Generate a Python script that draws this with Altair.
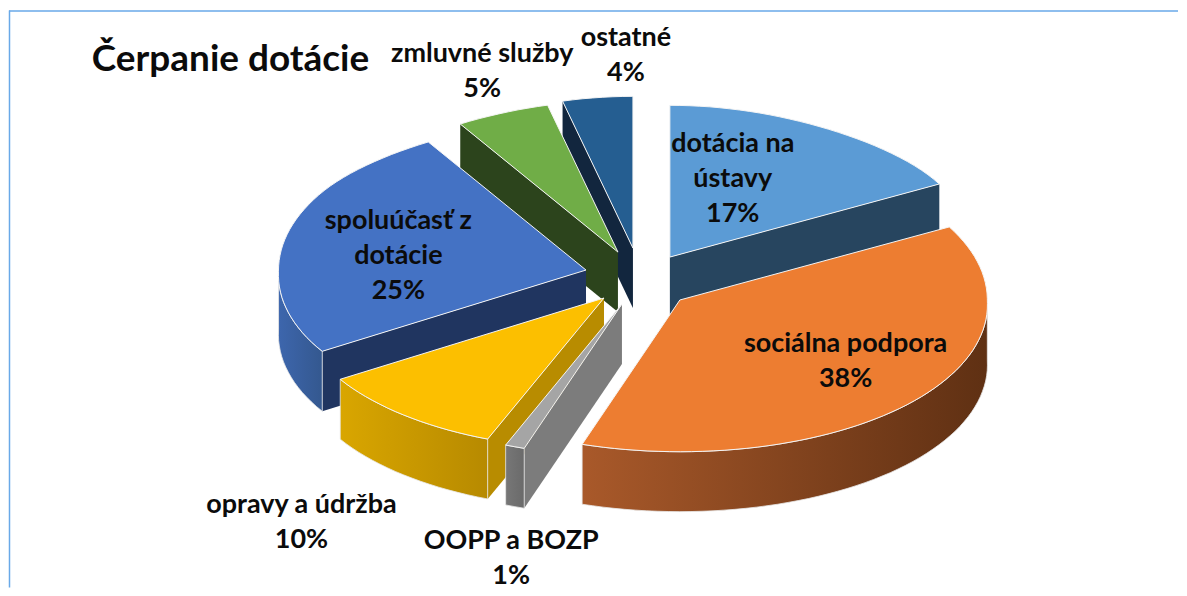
import math
import altair as alt

TITLE = "Čerpanie dotácie"
NAMES = ["dotácia na\nústavy", "sociálna podpora", "OOPP a BOZP", "opravy a údržba",
         "spoluúčasť z\ndotácie", "zmluvné služby", "ostatné"]
SHARES = [17, 38, 1, 10, 25, 5, 4]

# drawing parameters (screen pixels of the reference)
W, H = 1171, 580
OFF = 8
RX, RY, DEPTH = 308, 152, 60
APEX = [(670, 257), (680, 300), (622, 304), (604, 298), (586, 270), (618, 252), (633, 248)]
TOPS = ["#5b9bd5", "#ed7d31", "#a5a5a5", "#fcbf00", "#4472c4", "#70ad47", "#255e91"]
RADIAL = ["#27455f", "#5f3013", "#7c7c7c", "#b88c00", "#203560", "#2c441c", "#12263e"]
OUTER = [("#27455f", "#27455f"), ("#a9592a", "#5f3013"), ("#777777", "#6a6a6a"), ("#d9a600", "#b78a00"),
         ("#3d66ad", "#34588f"), ("#2c441c", "#2c441c"), ("#12263e", "#12263e")]
PAINT = [6, 5, 0, 4, 3, 2, 1]
LABEL_POS = [(733, 144), (846, 344), (511, 541), (301, 505), (398, 221), (482, 54), (626, 38)]


def pt(i, deg, depth=0):
    a = math.radians(deg)
    t = -math.cos(a)
    k = 1 + 0.03 * t if t > 0 else 1 - 0.36 * max(0, -t - 0.5) ** 2
    ax, ay = APEX[i]
    return [round(ax + RX * k * math.sin(a), 1), round(ay + RY * t + depth, 1)]


def arc(i, lo, hi, depth=0):
    n = max(2, int((hi - lo) / 2))
    return [pt(i, lo + (hi - lo) * j / n, depth) for j in range(n + 1)]


def poly(points):
    pts = points + [points[0]]
    return alt.Data(values=[{"type": "Feature", "properties": {},
                             "geometry": {"type": "Polygon", "coordinates": [pts]}}])


PROJ = dict(type="identity", scale=1, translate=[-OFF, -OFF])


def shape(points, fill, **kw):
    return alt.Chart(poly(points)).mark_geoshape(fill=fill, **kw).project(**PROJ)


def grad(c1, c2):
    return alt.LinearGradient(gradient="linear", x1=0, x2=1, y1=0, y2=0,
                              stops=[alt.GradientStop(color=c1, offset=0),
                                     alt.GradientStop(color=c2, offset=1)])


starts, acc = [], 0
for s in SHARES:
    starts.append(acc * 3.6)
    acc += s

layers = []
for i in PAINT:
    s, e = starts[i], starts[i] + SHARES[i] * 3.6
    ax, ay = APEX[i]
    if e <= 180:
        q = pt(i, e)
        layers.append(shape([[ax, ay], q, [q[0], q[1] + DEPTH], [ax, ay + DEPTH]], RADIAL[i]))
    if s >= 180:
        q = pt(i, s)
        layers.append(shape([[ax, ay], q, [q[0], q[1] + DEPTH], [ax, ay + DEPTH]], RADIAL[i]))
    lo, hi = max(s, 90), min(e, 270)
    if lo < hi:
        wall = arc(i, lo, hi) + arc(i, lo, hi, DEPTH)[::-1]
        layers.append(shape(wall, grad(OUTER[i][0], OUTER[i][1]), stroke="#e8e8e8", strokeWidth=0.8))
    top = [[ax, ay]] + arc(i, s, e)
    layers.append(shape(top, TOPS[i], stroke="#f4f4f4", strokeWidth=1))

labels = alt.Data(values=[
    {"t": f"{n}\n{v}%", "x": p[0] - OFF, "y": p[1] - OFF}
    for n, v, p in zip(NAMES, SHARES, LABEL_POS)
])
xs = alt.Scale(domain=[0, W], range=[0, W])
ys = alt.Scale(domain=[0, H], range=[0, H])
text = alt.Chart(labels).mark_text(
    font="Lato", fontWeight="bold", fontSize=27, color="#0b0b0b", lineBreak="\n", lineHeight=35,
    align="center", baseline="middle"
).encode(x=alt.X("x:Q", scale=xs, axis=None), y=alt.Y("y:Q", scale=ys, axis=None), text="t:N")

title = alt.Chart(alt.Data(values=[{"t": TITLE, "x": 91 - OFF, "y": 60 - OFF}])).mark_text(
    font="Lato", fontWeight="bold", fontSize=37, color="#0b0b0b", align="left", baseline="middle"
).encode(x=alt.X("x:Q", scale=xs, axis=None), y=alt.Y("y:Q", scale=ys, axis=None), text="t:N")

frame_t = alt.Chart(alt.Data(values=[{}])).mark_rule(color="#69a9e8", strokeWidth=1.5).encode(
    x=alt.value(0), x2=alt.value(W), y=alt.value(2.5))
frame_l = alt.Chart(alt.Data(values=[{}])).mark_rule(color="#69a9e8", strokeWidth=1.5).encode(
    x=alt.value(0.5), y=alt.value(2), y2=alt.value(H))

chart = alt.layer(*layers, text, title, frame_t, frame_l).properties(
    width=W, height=H, padding=0, background="#ffffff"
).configure_view(stroke=None).resolve_scale(x="shared", y="shared")

chart.save("out.html", embed_options={"renderer": "svg", "actions": False})
